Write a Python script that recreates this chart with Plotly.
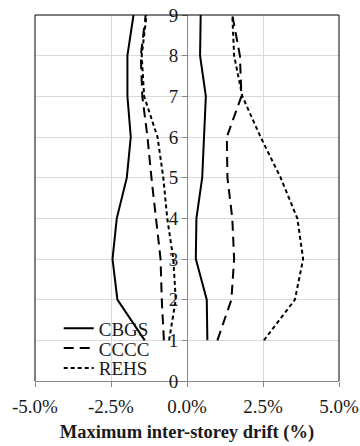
import plotly.graph_objects as go

storeys = [1, 2, 3, 4, 5, 6, 7, 8, 9]
cbgs_pos = [0.67, 0.65, 0.29, 0.31, 0.50, 0.56, 0.62, 0.43, 0.45]
cbgs_neg = [-1.39, -2.29, -2.45, -2.31, -1.98, -1.85, -1.96, -1.96, -1.76]
cccc_pos = [1.00, 1.46, 1.55, 1.49, 1.33, 1.31, 1.79, 1.74, 1.49]
cccc_neg = [-0.76, -0.83, -0.87, -1.03, -1.17, -1.30, -1.47, -1.52, -1.36]
rehs_pos = [2.53, 3.55, 3.82, 3.63, 3.08, 2.42, 1.82, 1.55, 1.49]
rehs_neg = [-0.59, -0.37, -0.45, -0.65, -0.78, -0.97, -1.41, -1.49, -1.33]

x_tickvals = [-5, -2.5, 0, 2.5, 5]
x_ticktext = ["-5.0%", "-2.5%", "0.0%", "2.5%", "5.0%"]
y_tickvals = [0, 1, 2, 3, 4, 5, 6, 7, 8, 9]

series = [
    ("CBGS", cbgs_neg, cbgs_pos, "solid", "legend"),
    ("CCCC", cccc_neg, cccc_pos, "10px,6px", "legend2"),
    ("REHS", rehs_neg, rehs_pos, "4px,3px", "legend3"),
]

FONT = "Liberation Serif"
TXT = "#1a1a1a"

fig = go.Figure()
for name, neg, pos, dash, leg in series:
    for i, xs in enumerate((neg, pos)):
        fig.add_trace(go.Scatter(
            x=xs, y=storeys, mode="lines", name=name,
            legendgroup=name, showlegend=(i == 0), legend=leg,
            line=dict(color="black", width=2, dash=dash),
        ))

def leg(ypos):
    return dict(
        x=0.078, y=ypos, xanchor="left", yanchor="middle",
        bgcolor="rgba(0,0,0,0)", borderwidth=0,
        font=dict(family=FONT, size=19, color=TXT),
        itemwidth=30,
    )

fig.update_layout(
    width=360, height=446,
    margin=dict(l=34.5, r=20.5, t=14.7, b=65),
    paper_bgcolor="white", plot_bgcolor="white",
    font=dict(family=FONT, color=TXT, size=17),
    showlegend=True,
    legend=leg(0.144),
    legend2=leg(0.0895),
    legend3=leg(0.035),
    xaxis=dict(
        range=[-5, 5], tickvals=x_tickvals, ticktext=x_ticktext,
        showgrid=True, gridcolor="#d9d9d9", gridwidth=1,
        zeroline=False, showline=True, linecolor="#868686", linewidth=1,
        ticks="outside", ticklen=5, tickcolor="#868686",
        ticklabelstandoff=3, automargin=False,
        tickfont=dict(family=FONT, size=19, color=TXT),
        title=dict(text="<b>Maximum inter-storey drift (%)</b>",
                   font=dict(family=FONT, size=18.5, color=TXT), standoff=9),
        fixedrange=True,
    ),
    yaxis=dict(
        range=[0, 9], tickvals=y_tickvals,
        showgrid=True, gridcolor="#d9d9d9", gridwidth=1,
        zeroline=False, showline=True, linecolor="#868686", linewidth=1,
        anchor="free", position=0.5, automargin=False,
        ticks="outside", ticklen=5, tickcolor="#868686",
        tickfont=dict(family=FONT, size=19, color=TXT),
        fixedrange=True,
    ),
    shapes=[
        dict(type="line", xref="paper", yref="paper", x0=0, x1=0, y0=0, y1=1,
             line=dict(color="black", width=1)),
        dict(type="line", xref="paper", yref="paper", x0=0, x1=1, y0=1, y1=1,
             line=dict(color="black", width=1)),
        dict(type="line", xref="paper", yref="paper", x0=1, x1=1, y0=0, y1=1,
             line=dict(color="black", width=1)),
    ],
)

fig.write_html("out.html")
